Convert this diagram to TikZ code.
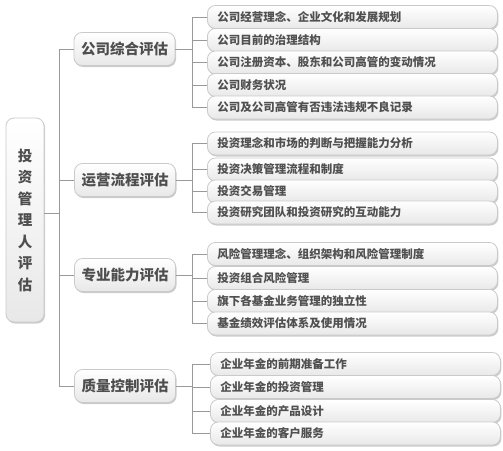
\documentclass[tikz,border=0pt]{standalone}
\usepackage{fontspec}
\setmainfont{Noto Sans CJK SC}
\usetikzlibrary{shadows}
\definecolor{linec}{HTML}{9A9A9A}
\definecolor{borderc}{HTML}{CACACA}
\definecolor{txtc}{HTML}{4E4E4E}
\definecolor{txtd}{HTML}{505050}
\tikzset{
  x=1pt,y=1pt,
  boxbase/.style={draw=borderc, line width=0.8pt, rounded corners=8pt,
    top color=white, bottom color=black!9, text=txtc,
    drop shadow={shadow xshift=1pt, shadow yshift=-1.5pt, opacity=0.2, fill=black}},
  child/.style={boxbase, anchor=west, minimum width=290pt, minimum height=23pt,
    text width=270pt, inner xsep=10pt, inner ysep=0pt, align=left, text=txtd,
    font=\fontsize{11.5}{13}\selectfont\bfseries},
  levone/.style={boxbase, minimum width=101pt, minimum height=33pt, inner sep=0pt,
    font=\fontsize{14.5}{16}\selectfont\bfseries},
  rootbox/.style={boxbase, minimum width=38pt, minimum height=204pt, inner sep=0pt,
    align=center, font=\fontsize{14.5}{21.5}\selectfont\bfseries},
  conn/.style={draw=linec, line width=0.7pt}
}
\begin{document}
\begin{tikzpicture}
\useasboundingbox (0,0) rectangle (503,-450);
% root
\node[rootbox] (root) at (25,-220) {投\\资\\管\\理\\人\\评\\估};
% level one
\node[levone] (A) at (124.5,-49) {公司综合评估};
\node[levone] (B) at (125,-180) {运营流程评估};
\node[levone] (C) at (125,-275) {专业能力评估};
\node[levone] (D) at (125,-386) {质量控制评估};
% group A children
\node[child] (a1) at (207,-17) {公司经营理念、企业文化和发展规划};
\node[child] (a2) at (207,-40) {公司目前的治理结构};
\node[child] (a3) at (207,-62.5) {公司注册资本、股东和公司高管的变动情况};
\node[child] (a4) at (207,-85) {公司财务状况};
\node[child] (a5) at (207,-107.5) {公司及公司高管有否违法违规不良记录};
% group B
\node[child] (b1) at (207,-143.5) {投资理念和市场的判断与把握能力分析};
\node[child] (b2) at (207,-169.5) {投资决策管理流程和制度};
\node[child] (b3) at (207,-191.5) {投资交易管理};
\node[child] (b4) at (207,-212.5) {投资研究团队和投资研究的互动能力};
% group C
\node[child] (c1) at (207,-254) {风险管理理念、组织架构和风险管理制度};
\node[child] (c2) at (207,-278) {投资组合风险管理};
\node[child] (c3) at (207,-301) {旗下各基金业务管理的独立性};
\node[child] (c4) at (207,-323.5) {基金绩效评估体系及使用情况};
% group D
\node[child] (d1) at (210,-364) {企业年金的前期准备工作};
\node[child] (d2) at (210,-387) {企业年金的投资管理};
\node[child] (d3) at (210,-411) {企业年金的产品设计};
\node[child] (d4) at (210,-433.5) {企业年金的客户服务};
% main trunk
\coordinate (tr) at (59,-213);
\draw[conn] (root.east |- tr) -- (tr);
\draw[conn] (59,-49) -- (59,-386);
\foreach \n in {A,B,C,D}{\draw[conn] (59,0 |- \n.west) -- (\n.west);}
% brackets
\foreach \p/\f/\l/\list in {A/a1/a5/{a1,a2,a3,a4,a5}, B/b1/b4/{b1,b2,b3,b4}, C/c1/c4/{c1,c2,c3,c4}, D/d1/d4/{d1,d2,d3,d4}}{
  \draw[conn] (\p.east) -- (192,0 |- \p.east);
  \draw[conn] (192,0 |- \f.west) -- (192,0 |- \l.west);
  \foreach \c in \list {\draw[conn] (192,0 |- \c.west) -- (\c.west);}
}
\end{tikzpicture}
\end{document}
